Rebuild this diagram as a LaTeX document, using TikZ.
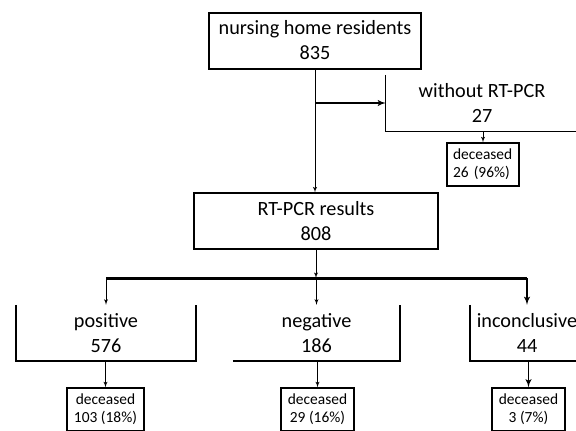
\documentclass[tikz,border=0pt]{standalone}
\usepackage{fontspec}
\setmainfont{Carlito}
\usetikzlibrary{arrows}
\tikzstyle{stage}=[inner sep=0pt, text centered, align=center,
	minimum height=56bp, font=\fontsize{20.3}{25}\selectfont]
\tikzstyle{outcome}=[draw, line width=1.4bp, inner ysep=0pt,
	minimum height=43bp, font=\fontsize{15.5}{18}\selectfont]
\tikzstyle{line} = [draw, line width=0.9bp, -latex']
\tikzstyle{heavy} = [draw, line width=1.8bp, -latex']
\newcommand{\flowBox}[4]{node (#1) [stage, #2]
	{{#3}\\{#4}}}
\newcommand{\deadBox}[3]{node (#1) [outcome, #2]
	{deceased\\{#3}}}

\begin{document}
\begin{tikzpicture}[x=1bp, y=-1bp]
	\useasboundingbox (0,0) rectangle (576,430);
	\clip (0,0) rectangle (576,430);

	\path (315,40.5) \flowBox{residents}{draw, line width=2bp, minimum width=212bp}{nursing home residents}{835};
	\path (482,103) \flowBox{noPCR}{minimum width=192bp}{without RT-PCR}{27};
	\path (316,221) \flowBox{results}{draw, line width=1.2bp, minimum width=244bp}{RT-PCR results}{808};

	\path (106,333) \flowBox{pos}{minimum width=180bp}{positive}{576};
	\path (316.5,333) \flowBox{neg}{minimum width=167bp}{negative}{186};
	\path (527,333) \flowBox{inc}{minimum width=114bp}{inconclusive}{44};

	\path (483,164.5) \deadBox{decNo}{text width=60bp, inner xsep=6bp, align=left}{26 (96\%)};
	\path (105.5,409.5) \deadBox{decPos}{inner xsep=0pt, minimum width=77bp, align=center}{103 (18\%)};
	\path (317.5,409.5) \deadBox{decNeg}{inner xsep=0pt, minimum width=73bp, align=center}{29 (16\%)};
	\path (528.5,409.5) \deadBox{decInc}{inner xsep=0pt, minimum width=73bp, align=center}{3 (7\%)};

	% Open sides of the boxes
	\draw[line width=1.2bp] (noPCR.north west) -- (noPCR.south west) -- (noPCR.south east);
	\draw[line width=1.6bp] (pos.north west) -- (pos.south west) -- (pos.south east) -- (pos.north east);
	\draw[line width=1.6bp] (neg.south west) -- (neg.south east) -- (neg.north east);
	\draw[line width=1.6bp] (inc.north west) -- (inc.south west) -- (inc.south east);

	\coordinate (split) at (residents.south |- noPCR.west);
	\coordinate (bar) at (316,278);

	% Draw arrows between elements
	\path [line] (residents.south) -- (residents.south |- results.north);
	\path [heavy] (split) -- (noPCR.west);
	\path [line] (noPCR.south -| decNo) -- (decNo.north);

	\path [line] (results.south) -- (bar);
	\draw [line width=3bp] (pos.north |- bar) -- (inc.north |- bar);
	\path [line] (pos.north |- bar) -- (pos.north);
	\path [line] (neg.north |- bar) -- (neg.north);
	\path [heavy] (inc.north |- bar) -- (inc.north);

	\path [line] (pos.south -| decPos) -- (decPos.north);
	\path [line] (neg.south -| decNeg) -- (decNeg.north);
	\path [heavy] (inc.south -| decInc) -- (decInc.north);

\end{tikzpicture}
\end{document}
